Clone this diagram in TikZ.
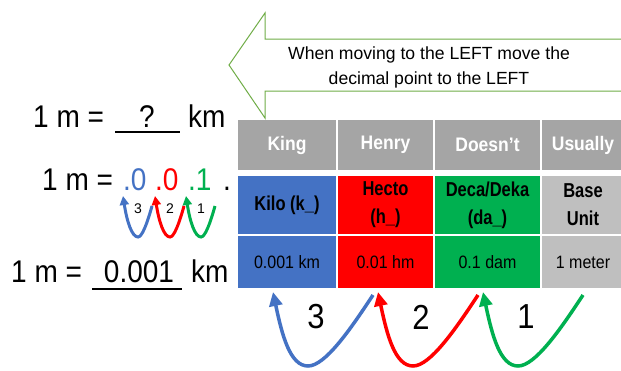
\documentclass[tikz,border=0pt]{standalone}
\usepackage{fontspec}
\usepackage{graphicx}
\setmainfont{Liberation Sans}
\usetikzlibrary{arrows.meta,positioning}
\definecolor{kblue}{HTML}{4472C4}
\definecolor{kred}{HTML}{FF0000}
\definecolor{kgreen}{HTML}{00B050}
\definecolor{hgray}{HTML}{A5A5A5}
\definecolor{bgray}{HTML}{BFBFBF}
\definecolor{agreen}{HTML}{70AD47}
\newcommand{\tall}[1]{\scalebox{1}[1.12]{#1}}
\newcommand{\taller}[1]{\scalebox{1}[1.22]{#1}}

\begin{document}
\begin{tikzpicture}[x=1pt,y=-1pt,
  cellbox/.style={anchor=north west,inner sep=0pt,outer sep=0pt,align=center,font=\fontsize{16.5}{28}\selectfont\bfseries},
  headcell/.style={cellbox,fill=hgray,text=white,font=\fontsize{17.5}{20}\selectfont\bfseries,minimum height=50pt},
  prefcell/.style={cellbox,minimum height=58pt},
  valcell/.style={cellbox,minimum height=52pt,font=\fontsize{16}{20}\selectfont},
  eqtext/.style={anchor=base west,inner sep=0pt,font=\fontsize{28}{30}\selectfont},
  bigarr/.style={-{Triangle[length=14pt,width=13pt]},line width=3.5pt},
  smallarr/.style={-{Triangle[length=9pt,width=9pt]},line width=3pt}
]
\clip (0,0) rectangle (621,370);
\fill[white] (0,0) rectangle (621,370);

% arrow banner
\draw[agreen,line width=1pt] (229,65) -- (265,13) -- (265,39) -- (630,39)
  -- (630,91) -- (265,91) -- (265,118) -- cycle;
\node[font=\fontsize{17.6}{25}\selectfont,align=center] (msg) at (429,67)
  {When moving to the LEFT move the\\decimal point to the LEFT};

% table
\node[headcell,minimum width=98pt] (king) at (238,120) {\tall{King}};
\node[headcell,minimum width=95pt] (henry) at (338,120) {\tall{Henry}};
\node[headcell,minimum width=105pt] (doesnt) at (435,120) {\tall{Doesn’t}};
\node[headcell,minimum width=82pt] (usually) at (542,120) {\tall{Usually}};

\node[prefcell,minimum width=98pt,fill=kblue] (kilo) at (238,176) {\taller{Kilo (k\_)}};
\node[prefcell,minimum width=95pt,fill=kred] (hecto) at (338,176) {\taller{Hecto}\\\taller{(h\_)}};
\node[prefcell,minimum width=105pt,fill=kgreen] (deca) at (435,176) {\taller{Deca/Deka}\\\taller{(da\_)}};
\node[prefcell,minimum width=82pt,fill=bgray] (base) at (542,176) {\taller{Base}\\\taller{Unit}};

\node[valcell,minimum width=98pt,fill=kblue] (kiloval) at (238,236) {\tall{0.001 km}};
\node[valcell,minimum width=95pt,fill=kred] (hectoval) at (338,236) {\tall{0.01 hm}};
\node[valcell,minimum width=105pt,fill=kgreen] (decaval) at (435,236) {\tall{0.1 dam}};
\node[valcell,minimum width=82pt,fill=bgray] (baseval) at (542,236) {\tall{1 meter}};

% jumps under the table
\foreach \x/\col/\num in {273/kblue/3,378/kred/2,483/kgreen/1}{
  \coordinate (tail\num) at (\x+100,295);
  \coordinate (low\num) at (\x+35,366);
  \coordinate (tip\num) at (\x,292);
  \draw[bigarr,\col] (tail\num) .. controls (\x+77,330) and (\x+52,366) .. (low\num)
    .. controls (\x+17,366) and (\x+9,335) .. (tip\num);
  \node[font=\fontsize{31}{31}\selectfont] (jump\num) at (\x+43,317) {\tall{\num}};
}

% equations
\node[eqtext] (eqa) at (33,127) {\tall{1 m =}};
\node[eqtext,anchor=base] (qmark) at (147,127) {\tall{?}};
\node[eqtext] (kma) at (188,127) {\tall{km}};
\coordinate (ula) at (115,132);
\coordinate (ulb) at (180,132);
\draw[line width=2.5pt] (ula) -- (ulb);

\node[eqtext] (eqb) at (42,190) {\tall{1 m =}};
\node[eqtext,text=kblue] (dotk) at (123,190) {\tall{.0}};
\node[eqtext,text=kred] (doth) at (155,190) {\tall{.0}};
\node[eqtext,text=kgreen] (dotd) at (188,190) {\tall{.1}};
\node[eqtext] (dotm) at (223,190) {\tall{.}};

\foreach \x/\col/\num in {123/kblue/3,155/kred/2,186/kgreen/1}{
  \coordinate (stail\num) at (\x+29,206);
  \coordinate (slow\num) at (\x+15,237);
  \coordinate (stip\num) at (\x,196);
  \draw[smallarr,\col] (stail\num) .. controls (\x+24,224) and (\x+19,237) .. (slow\num)
    .. controls (\x+9,237) and (\x+4,222) .. (stip\num);
  \node[font=\fontsize{14}{14}\selectfont] (hop\num) at (\x+15,209) {\num};
}

\node[eqtext] (eqc) at (11,282) {\tall{1 m =}};
\node[eqtext,anchor=base] (answer) at (139,282) {\tall{0.001}};
\node[eqtext] (kmc) at (191,282) {\tall{km}};
\coordinate (ulc) at (92,289);
\coordinate (uld) at (182,289);
\draw[line width=2.5pt] (ulc) -- (uld);
\end{tikzpicture}
\end{document}
